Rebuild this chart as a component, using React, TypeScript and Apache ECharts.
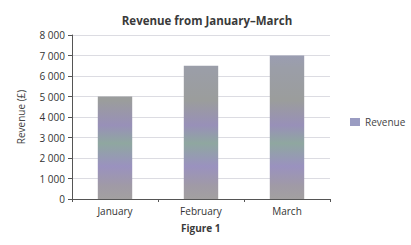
import React, { useEffect, useRef } from "react";
import * as echarts from "echarts";

const categories = ["January", "February", "March"];
const revenue = [5000, 6500, 7000];
const seriesName = "Revenue";
const titleText = "Revenue from January\u2013March";
const yAxisName = "Revenue (\u00a3)";
const captionText = "Figure 1";

const FONT = "'Open Sans', 'DejaVu Sans', sans-serif";

export default function App() {
  const ref = useRef<HTMLDivElement>(null);
  useEffect(() => {
    if (!ref.current) return;
    const chart = echarts.init(ref.current, null, { renderer: "svg" });
    const barGrad = new echarts.graphic.LinearGradient(
      0, 35, 0, 199,
      [
        { offset: 0, color: "#9a9cc2" },
        { offset: 0.2, color: "#9b9ea8" },
        { offset: 0.4, color: "#9b9d9c" },
        { offset: 0.55, color: "#9890b8" },
        { offset: 0.66, color: "#8fa7a0" },
        { offset: 0.8, color: "#9a92bf" },
        { offset: 0.92, color: "#a09aa6" },
        { offset: 1, color: "#a2a0a0" },
      ],
      true
    );
    chart.setOption({
      animation: false,
      backgroundColor: "#ffffff",
      title: {
        text: titleText,
        left: 202,
        textAlign: "center",
        top: 9,
        textStyle: { fontFamily: FONT, fontSize: 11.5, fontWeight: "bold", color: "#3a3a3a" },
      },
      legend: {
        data: [seriesName],
        left: 345,
        top: 112,
        itemWidth: 10,
        itemHeight: 8,
        itemGap: 4,
        icon: "rect",
        textStyle: { fontFamily: FONT, fontSize: 10, color: "#444" },
      },
      grid: { left: 72, right: 81, top: 35, bottom: 46, containLabel: false },
      xAxis: {
        type: "category",
        data: categories,
        axisLine: { lineStyle: { color: "#555", width: 1 } },
        axisTick: { show: true, alignWithLabel: false, length: 3, lineStyle: { color: "#555" } },
        axisLabel: { fontFamily: FONT, fontSize: 10, color: "#333", margin: 7 },
      },
      yAxis: {
        type: "value",
        min: 0,
        max: 8000,
        interval: 1000,
        name: yAxisName,
        nameLocation: "middle",
        nameGap: 46,
        nameTextStyle: { fontFamily: FONT, fontSize: 10, color: "#444" },
        axisLine: { show: true, lineStyle: { color: "#555", width: 1 } },
        axisTick: { show: true, inside: false, length: 4, lineStyle: { color: "#555" } },
        axisLabel: {
          fontFamily: FONT,
          fontSize: 10,
          color: "#333",
          margin: 7,
          formatter: (v: number) => String(v).replace(/\B(?=(\d{3})+(?!\d))/g, " "),
        },
        splitLine: { lineStyle: { color: "#dcdce2", width: 1 } },
      },
      series: [
        {
          name: seriesName,
          type: "bar",
          data: revenue,
          barWidth: "40%",
          itemStyle: { color: barGrad },
        },
      ],
      graphic: [
        {
          type: "text",
          left: 181,
          top: 223,
          style: {
            text: captionText,
            fontFamily: FONT,
            fontSize: 10,
            fontWeight: "bold",
            fill: "#3a3a3a",
          },
        },
      ],
    });
    return () => chart.dispose();
  }, []);
  return <div ref={ref} style={{ width: 411, height: 245, position: "absolute", left: 0, top: 0 }} />;
}
